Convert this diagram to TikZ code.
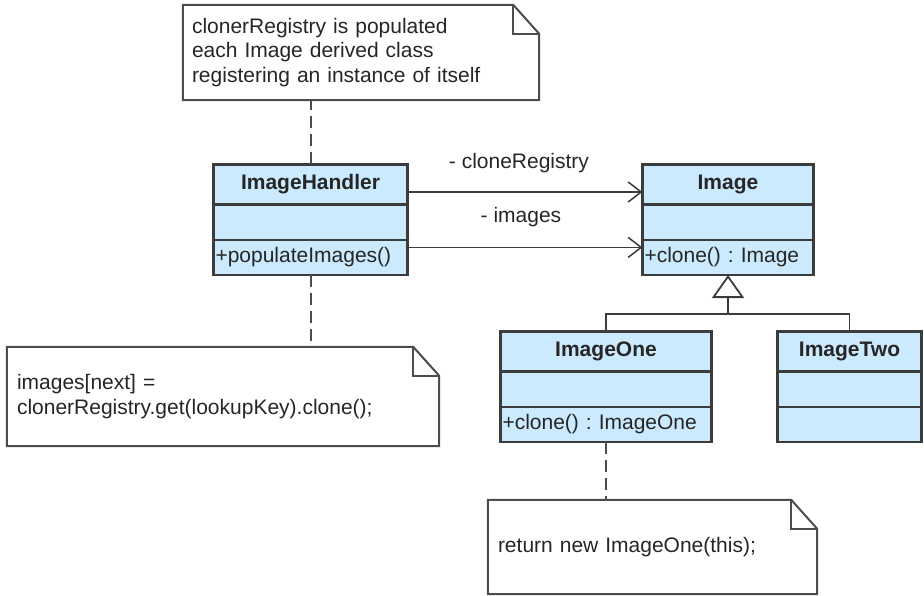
\documentclass[tikz,border=0pt]{standalone}
\usepackage{fontspec}
\setmainfont{Liberation Sans}
\usepackage{xcolor}
\usepackage{tikz}
\usetikzlibrary{arrows.meta, positioning}

\definecolor{classblue}{RGB}{204,234,253}
\definecolor{linegray}{RGB}{60,60,60}
\newcommand{\umlfont}{\fontsize{21}{24.5}\selectfont\frenchspacing}

\begin{document}
\begin{tikzpicture}[
    x=1pt, y=-1pt,
    text=black!85,
    note/.style={fill=white, align=left, inner ysep=0pt, font=\umlfont},
    noteline/.style={draw=black!70, line width=2pt},
    notelink/.style={draw=black!70, line width=2pt, dash pattern=on 12pt off 6pt},
    classname/.style={draw=linegray, line width=1.2pt, fill=classblue, minimum height=39pt, inner sep=0pt, font=\umlfont\bfseries},
    classpart/.style={draw=linegray, line width=1.2pt, fill=classblue, minimum height=34pt, inner ysep=0pt, inner xsep=1.5pt, align=left, font=\umlfont},
    classborder/.style={draw=linegray, line width=2pt},
    assoc/.style={-{Straight Barb[length=13pt, width=20pt]}, line width=1.5pt, draw=linegray},
    inherit/.style={line width=1.8pt, draw=linegray},
    lbl/.style={font=\umlfont},
]
\useasboundingbox (0,0) rectangle (924,596);

% Notes
\node[note, text width=338pt, inner xsep=9pt, minimum height=95pt] (regnote) at (361,52.5)
    {clonerRegistry is populated\\each Image derived class\\registering an instance of itself};
\node[note, text width=412pt, inner xsep=10pt, minimum height=99pt] (lookupnote) at (223,396.5)
    {images[next] =\\clonerRegistry.get(lookupKey).clone();};
\node[note, text width=309pt, inner xsep=10pt, minimum height=94pt] (returnnote) at (652.5,547)
    {return new ImageOne(this);};

% Folded corners
\foreach \n in {regnote, lookupnote, returnnote} {
    \draw[noteline] (\n.north west) -- ([xshift=-26pt]\n.north east) -- ([yshift=-29pt]\n.north east)
        -- (\n.south east) -- (\n.south west) -- cycle;
    \draw[noteline] ([xshift=-26pt]\n.north east) |- ([yshift=-29pt]\n.north east);
}

% Classes
\node[classname, minimum width=193pt] (ih-n) at (310.5,184.5) {ImageHandler};
\node[classpart, text width=190pt, below=0pt of ih-n] (ih-a) {};
\node[classpart, text width=190pt, below=0pt of ih-a] (ih-o) {+populateImages()};

\node[classname, minimum width=170pt] (img-n) at (728,184.5) {Image};
\node[classpart, text width=167pt, below=0pt of img-n] (img-a) {};
\node[classpart, text width=167pt, below=0pt of img-a] (img-o) {+clone() : Image};

\node[classname, minimum width=210pt] (io-n) at (606,351.5) {ImageOne};
\node[classpart, text width=207pt, below=0pt of io-n] (io-a) {};
\node[classpart, text width=207pt, below=0pt of io-a] (io-o) {+clone() : ImageOne};

\node[classname, minimum width=143pt] (it-n) at (849.5,351.5) {ImageTwo};
\node[classpart, text width=140pt, below=0pt of it-n] (it-a) {};
\node[classpart, text width=140pt, below=0pt of it-a] (it-o) {};

\foreach \c in {ih, img, io, it} {
    \draw[classborder] (\c-n.north west) rectangle (\c-o.south east);
}

% Associations
\draw[assoc] ([yshift=-7.5pt]ih-n.east) -- node[lbl, yshift=29pt, xshift=-6pt] {- cloneRegistry} ([yshift=-7.5pt]img-n.west);
\draw[assoc] ([yshift=10pt]ih-o.east) -- node[lbl, yshift=30pt, xshift=-4pt] {- images} ([yshift=10pt]img-o.west);

% Generalization
\coordinate (split) at (728,314);
\draw[inherit] (io-n.north) |- (split) -| (it-n.north);
\draw[inherit, -{Triangle[open, length=23pt, width=32pt]}] (split) -- (img-o.south);

% Note links
\draw[notelink] (ih-n.north) -- (ih-n.north |- regnote.south);
\draw[notelink] (ih-o.south) -- (ih-o.south |- lookupnote.north);
\draw[notelink] (io-o.south) -- (io-o.south |- returnnote.north);

\end{tikzpicture}
\end{document}
